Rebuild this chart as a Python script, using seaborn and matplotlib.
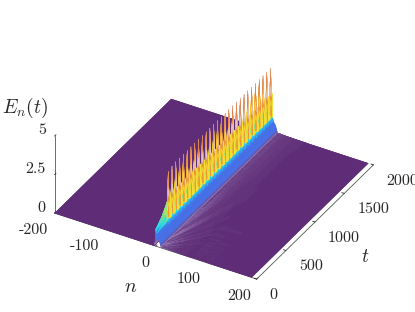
import numpy as np
import matplotlib
matplotlib.use("Agg")
import matplotlib.pyplot as plt
import seaborn as sns

sns.set_theme(style="white")
plt.rcParams["font.family"] = ["cmr10", "DejaVu Sans"]
plt.rcParams["mathtext.fontset"] = "cm"
plt.rcParams["axes.unicode_minus"] = False
plt.rcParams["axes.formatter.use_mathtext"] = True

# --- data -------------------------------------------------------------------
n_sites = [-200, -12, -6, -3, -2, -1, 0, 1, 2, 3, 4, 6, 8, 10, 12, 16, 24, 40, 70, 200]
wall_height = [0, 0, 0, 0.01, 0.02, 0.15, 0.8, 0.78, 0.72, 0.66, 0.6, 0.5, 0.3, 0.08, 0.03, 0.04, 0.03, 0.015, 0.004, 0]
ridge_share = [0, 0, 0, 0, 0.25, 0.7, 1.0, 0.12, 0, 0, 0, 0, 0, 0, 0, 0, 0, 0, 0, 0]
t_knots = [0, 40, 100, 160, 215, 300, 2000]
ridge_height = [0.3, 0.45, 0.7, 1.1, 1.5, 1.65, 1.7]
spike_times = [215 + 65 * k for k in range(28)]
spike_height = 1.75
spike_halfwidth = 20
wake_tile = [0.0, 0.05, 0.01, 0.07, 0.0, 0.03]
cmap_levels = [0, 0.03, 0.09, 0.16, 0.3, 0.8, 1.0, 1.25, 1.75, 2.1, 3.0, 3.45, 3.95, 4.25]
cmap_colors = ["#5f2d77", "#6b3f84", "#a487c0", "#6a58a8", "#4a6fe8", "#4478ec", "#30c0ee", "#2fe0e0", "#8fe070",
               "#f2e838", "#f8c830", "#f09030", "#d87850", "#e8c8c0"]
x_ticks = [-200, -100, 0, 100, 200]
y_ticks = [0, 500, 1000, 1500, 2000]
z_ticks = [0, 2.5, 5]
z_labels = ["0", "2.5", "5"]

# --- surface table ------------------------------------------------------------
t_grid = np.arange(0, 2000.1, 2.5)
n_grid = np.concatenate([np.arange(-200, -30, 20.0), np.arange(-30, 70, 0.5), np.arange(70, 201, 20.0)])
ridge_t = np.interp(t_grid, t_knots, ridge_height)
spikes = np.zeros_like(t_grid)
for st in spike_times:
    bump = np.interp(t_grid, [st - spike_halfwidth, st, st + spike_halfwidth], [0, spike_height, 0], left=0, right=0)
    spikes = np.maximum(spikes, bump)
wall_n = np.interp(n_grid, n_sites, wall_height)
share_n = np.interp(n_grid, n_sites, ridge_share)
E = wall_n[:, None] + np.outer(share_n, ridge_t + spikes)
# lattice radiation on the forward side of the ridge
tile = np.array(wake_tile)
tile_n = tile[np.round(n_grid * 2).astype(int) % 6]
tile_t = tile[(np.arange(t_grid.size) // 8) % 6]
wake_env = np.interp(n_grid, [-8, 8, 24, 45], [0, 1.3, 0.55, 0])
E = E + np.outer(wake_env * tile_n * 6, tile_t)
# fan of faint streaks leaving the start of the ridge
T, N = np.meshgrid(t_grid, n_grid)
ratio = np.clip(N, 0, None) / (T + 40.0)
fan = tile[(ratio * 60).astype(int) % 6] * np.interp(N, [8, 30, 110], [0.7, 0.5, 0]) * np.interp(T, [0, 500, 1000], [1.0, 0.6, 0.15])
E = E + fan * (N > 8)
# the ridge face goes straight from blue to yellow once the ramp is over,
# and each spike keeps a thin orange core down to the foot of the ridge
C = E + np.outer(share_n * (share_n > 0.3), spikes * 0.4)
face = (N > -1.5) & (N < 1.0) & (E > 0.82)
C = np.where(face, np.maximum(C, np.interp(T, [100, 215], [0, 2.2])), C)
core = face & (np.interp(T, t_grid, spikes) > 0.65 * spike_height)
C = np.where(core, np.maximum(C, 3.4), C)

levels = np.array(cmap_levels) / cmap_levels[-1]
cmap = matplotlib.colors.LinearSegmentedColormap.from_list("ridge", list(zip(levels, cmap_colors)), N=512)
sns.set_palette(cmap_colors)
faces = cmap(np.clip(C / cmap_levels[-1], 0, 1))

W, H, S = 415, 312, 333
cx, cy = 209.5, 155
fig = plt.figure(figsize=(W / 100, H / 100), dpi=100)
ax = fig.add_axes([(cx - S / 2) / W, (H - cy - S / 2) / H, S / W, S / H], projection="3d", proj_type="ortho")
ax.patch.set_alpha(0)
ax.view_init(elev=34.4, azim=-60)
ax.set_box_aspect((1, 1, 0.4), zoom=1)
surf = ax.plot_surface(N, T, E, facecolors=faces, rstride=1, cstride=1, linewidth=0.15, antialiased=True, shade=False)
surf.set_edgecolor(faces[:-1, :-1].reshape(-1, 4))
ax.set_xlim(-200, 200, view_margin=0)
ax.set_ylim(0, 2000, view_margin=0)
ax.set_zlim(0, 5, view_margin=0)
ax.set_xticks(x_ticks)
ax.set_yticks(y_ticks)
ax.set_zticks(z_ticks)
ax.set_xticklabels([str(v) for v in x_ticks], ha="right")
ax.set_yticklabels([str(v) for v in y_ticks], ha="left")
ax.set_zticklabels(z_labels, ha="right", va="bottom")
ax.zaxis.set_ticks_position("lower")
ax.grid(False)
pads = {"x": -1.5, "y": 0, "z": -4.5}
for name, a in (("x", ax.xaxis), ("y", ax.yaxis), ("z", ax.zaxis)):
    a.set_pane_color((1, 1, 1, 0))
    a.pane.set_edgecolor((1, 1, 1, 0))
    a.line.set_color("#555555")
    a.line.set_linewidth(0.6)
    a.set_tick_params(labelsize=11.5, colors="#262626", pad=pads[name])
    a._axinfo["tick"]["inward_factor"] = 0
    a._axinfo["tick"]["outward_factor"] = 0.15
    a._axinfo["tick"]["color"] = "#555555"
    a._axinfo["tick"]["linewidth"] = {True: 0.6, False: 0.6}
ax.set_xlabel("$n$", fontsize=14, labelpad=6)
ax.set_ylabel("$t$", fontsize=14, labelpad=10)
fig.text(25 / W, 1 - 108 / H, "$E_n(t)$", fontsize=14, color="#262626", ha="center", va="center")
fig.savefig("out.png", dpi=100)
